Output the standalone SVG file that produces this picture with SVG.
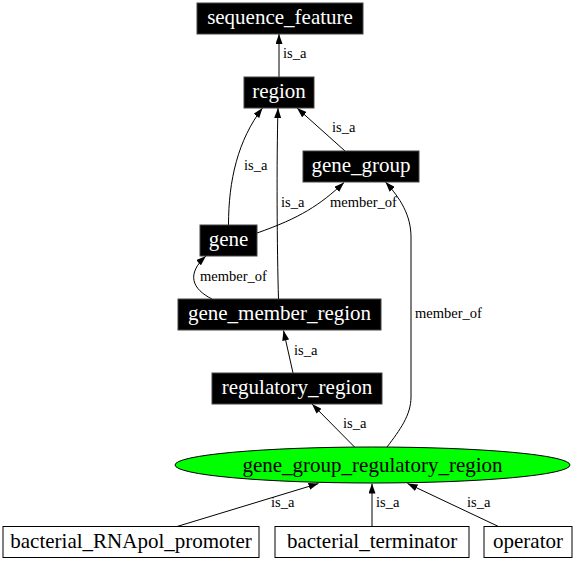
<svg xmlns="http://www.w3.org/2000/svg" width="576" height="561" viewBox="0 0 576 561">
<style>
.nb rect{fill:#000;stroke:#444;stroke-width:1}
.nb text{fill:#fff}
.nw rect{fill:#fff;stroke:#000;stroke-width:1}
.n text{font-family:"Liberation Serif","Times New Roman",serif;font-size:21px;text-anchor:middle}
.e path{fill:none;stroke:#000;stroke-width:1;marker-end:url(#ah)}
.e text{font-family:"Liberation Serif","Times New Roman",serif;font-size:14.5px;fill:#000}
</style>
<defs>
<marker id="ah" markerWidth="10" markerHeight="7" refX="10" refY="3.5" orient="auto" markerUnits="userSpaceOnUse">
<path d="M0,0 L10,3.5 L0,7 z" fill="#000"/>
</marker>
</defs>
<rect width="576" height="561" fill="#fff"/>
<g id="edges" class="e">
<path d="M279,77 L279,34"/>
<text x="283" y="58">is_a</text>
<path d="M345,151 L297,108"/>
<text x="332" y="132">is_a</text>
<path d="M228.5,225 C228.5,180 238,140 262.5,108"/>
<text x="244" y="170">is_a</text>
<path d="M278.5,299 C277,250 276.5,160 278,108"/>
<text x="281" y="207">is_a</text>
<path d="M257,233 C300,218 320,205 344,182.5"/>
<text x="330" y="207">member_of</text>
<path d="M212,299 C192,289 186,274 206,256"/>
<text x="200" y="281">member_of</text>
<path d="M293,373 L283.5,330.5"/>
<text x="294" y="355">is_a</text>
<path d="M354.5,447 L312,404"/>
<text x="343" y="428">is_a</text>
<path d="M387,447 C400,430 411,415 411,397 L411,237 C411,215 400,198 385.5,182"/>
<text x="415" y="318">member_of</text>
<path d="M177,526.5 L318.5,483.5"/>
<text x="271" y="507">is_a</text>
<path d="M372,526.5 L372,483.5"/>
<text x="376" y="507">is_a</text>
<path d="M498.5,526.5 L407.5,483.5"/>
<text x="467" y="507">is_a</text>
</g>
<g id="sequence_feature" class="n nb"><rect x="197" y="3" width="166" height="31"/><text x="280" y="24">sequence_feature</text></g>
<g id="region" class="n nb"><rect x="244" y="77" width="70" height="31"/><text x="279" y="98">region</text></g>
<g id="gene_group" class="n nb"><rect x="303" y="151" width="116" height="31"/><text x="361" y="172">gene_group</text></g>
<g id="gene" class="n nb"><rect x="200" y="225" width="57" height="31"/><text x="228.5" y="246">gene</text></g>
<g id="gene_member_region" class="n nb"><rect x="178" y="299" width="203" height="31"/><text x="279.5" y="320">gene_member_region</text></g>
<g id="regulatory_region" class="n nb"><rect x="212" y="373" width="170" height="31"/><text x="297" y="394">regulatory_region</text></g>
<g id="gene_group_regulatory_region" class="n"><ellipse cx="372.5" cy="465" rx="197.5" ry="18" fill="#00ff00" stroke="#000" stroke-width="1"/><text x="372.5" y="472">gene_group_regulatory_region</text></g>
<g id="bacterial_RNApol_promoter" class="n nw"><rect x="3" y="526.5" width="256" height="31"/><text x="131" y="548">bacterial_RNApol_promoter</text></g>
<g id="bacterial_terminator" class="n nw"><rect x="275" y="526.5" width="194" height="31"/><text x="372" y="548">bacterial_terminator</text></g>
<g id="operator" class="n nw"><rect x="484" y="526.5" width="88" height="31"/><text x="528" y="548">operator</text></g>
</svg>
